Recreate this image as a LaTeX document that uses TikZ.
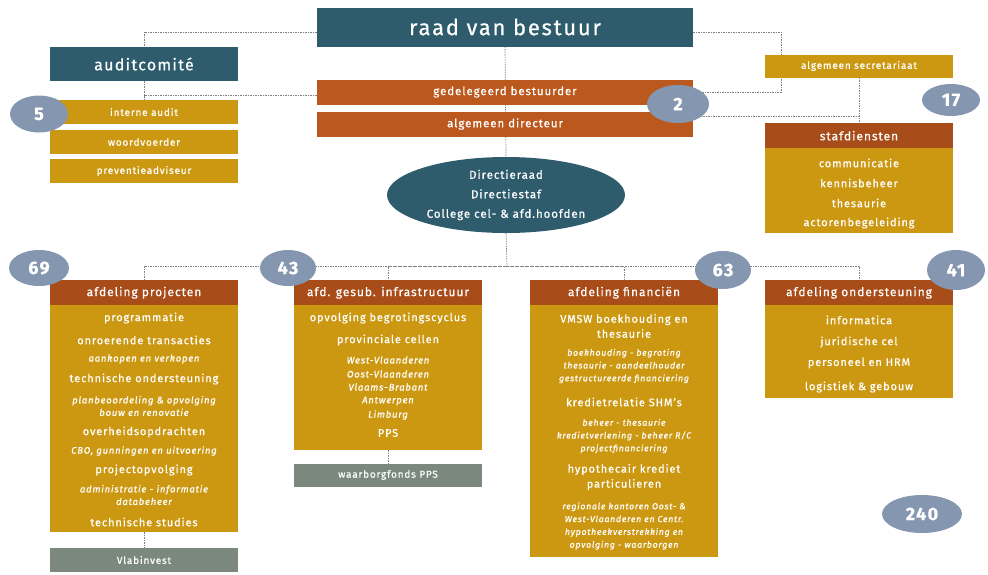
\documentclass[tikz,border=0pt]{standalone}
\usepackage{fontspec}
\setmainfont{Fira Sans}[LetterSpace=8, FakeBold=0.6]
\usetikzlibrary{shapes.geometric,backgrounds}

\definecolor{vmteal}{RGB}{46,92,108}
\definecolor{vmoranje}{RGB}{186,88,30}
\definecolor{vmkop}{RGB}{168,76,26}
\definecolor{vmgoud}{RGB}{204,152,18}
\definecolor{vmgrijs}{RGB}{122,136,126}
\definecolor{vmbol}{RGB}{132,150,176}
\definecolor{vmlijn}{RGB}{128,128,128}

\begin{document}
\begin{tikzpicture}[x=1pt,y=-1pt,
    lijn/.style={draw=vmlijn, line width=0.7pt, dash pattern=on 1.5pt off 1pt},
    vlak/.style={minimum width=188pt, inner sep=0pt, text=white},
    balk/.style={vlak, fill=vmgoud, minimum height=24pt, font=\fontsize{10}{12}\selectfont},
    oranjebalk/.style={vlak, fill=vmoranje, minimum width=376pt, minimum height=25pt, font=\fontsize{11.5}{13}\selectfont},
    grijsbalk/.style={vlak, fill=vmgrijs, minimum height=23pt, font=\fontsize{10}{12}\selectfont},
    lichaam/.style={vlak, fill=vmgoud, anchor=north},
    kop/.style={vlak, fill=vmkop, anchor=north, minimum height=25pt, font=\fontsize{12}{14}\selectfont},
    punt/.style={text=white, align=center, inner sep=0pt, font=\fontsize{11}{15}\selectfont},
    schuin/.style={text=white, align=center, inner sep=0pt, font=\fontsize{9.5}{12.5}\selectfont\itshape},
    schuinklein/.style={schuin, font=\fontsize{8.8}{12.8}\selectfont\itshape},
    bol/.style={ellipse, fill=vmbol, text=white, inner sep=0pt, font=\fontsize{18}{18}\selectfont\bfseries}
]
\useasboundingbox (0,0) rectangle (988,574);

% bovenaan
\node[vlak, fill=vmteal, minimum width=376pt, minimum height=39pt, font=\fontsize{22}{24}\selectfont] (rvb) at (505,27) {raad van bestuur};
\node[vlak, fill=vmteal, minimum height=34pt, font=\fontsize{16}{18}\selectfont] (audit) at (144,64) {auditcomité};
\node[balk] (ia) at (144,112) {interne audit};
\node[balk] (wv) at (144,142) {woordvoerder};
\node[balk] (pa) at (144,171) {preventieadviseur};
\node[oranjebalk] (ged) at (505,92) {gedelegeerd bestuurder};
\node[oranjebalk] (ad) at (505,124) {algemeen directeur};
\node[ellipse, fill=vmteal, text=white, minimum width=238pt, minimum height=76pt, inner sep=0pt,
      align=center, font=\fontsize{11.5}{19.5}\selectfont] (dir) at (506,195)
      {Directieraad\\Directiestaf\\College cel- \& afd.hoofden};

% rechts
\node[balk, minimum height=23pt] (sec) at (859,66) {algemeen secretariaat};
\node[lichaam, minimum height=110pt] (staf) at (859,123) {};
\node[kop] (stafkop) at (staf.north) {stafdiensten};
\foreach \y/\t [count=\i] in {163/communicatie, 183/kennisbeheer, 203/thesaurie, 223/actorenbegeleiding}
    \node[punt] (staf-\i) at (859,\y) {\t};

% afdelingen
\node[lichaam, minimum height=252pt] (proj) at (144,280) {};
\node[kop] (projkop) at (proj.north) {afdeling projecten};
\foreach \y/\s/\t [count=\i] in {318/punt/programmatie, 340/punt/onroerende transacties,
        359/schuin/aankopen en verkopen, 379/punt/technische ondersteuning,
        406/schuin/{planbeoordeling \& opvolging\\bouw en renovatie},
        432/punt/overheidsopdrachten, 451/schuin/{CBO, gunningen en uitvoering},
        470/punt/projectopvolging, 495/schuin/{administratie - informatie\\databeheer},
        522/punt/technische studies}
    \node[\s] (proj-\i) at (144,\y) {\t};
\node[grijsbalk, minimum height=24pt] (vlab) at (144,560) {Vlabinvest};

\node[lichaam, minimum height=170pt] (inf) at (388,280) {};
\node[kop] (infkop) at (inf.north) {afd. gesub. infrastructuur};
\foreach \y/\s/\t [count=\i] in {318/punt/opvolging begrotingscyclus, 340/punt/provinciale cellen,
        360/schuin/West-Vlaanderen, 374/schuin/Oost-Vlaanderen,
        387/schuin/Vlaams-Brabant, 401/schuin/Antwerpen,
        415/schuin/Limburg, 433/punt/PPS}
    \node[\s] (inf-\i) at (388,\y) {\t};
\node[grijsbalk] (wfp) at (388,475) {waarborgfonds PPS};

\node[lichaam, minimum height=277pt] (fin) at (624,280) {};
\node[kop] (finkop) at (fin.north) {afdeling financiën};
\foreach \y/\s/\t [count=\i] in {326/punt/{VMSW boekhouding en\\thesaurie},
        366/schuinklein/{boekhouding - begroting\\thesaurie - aandeelhouder\\gestructureerde financiering},
        402/punt/{kredietrelatie SHM's},
        436/schuinklein/{beheer - thesaurie\\kredietverlening - beheer R/C\\projectfinanciering},
        477/punt/{hypothecair krediet\\particulieren},
        526/schuinklein/{regionale kantoren Oost- \&\\West-Vlaanderen en Centr.\\hypotheekverstrekking en\\opvolging - waarborgen}}
    \node[\s] (fin-\i) at (624,\y) {\t};

\node[lichaam, minimum height=118pt] (ond) at (859,280) {};
\node[kop] (ondkop) at (ond.north) {afdeling ondersteuning};
\foreach \y/\t [count=\i] in {320/informatica, 342/juridische cel, 363/personeel en HRM, 387/logistiek \& gebouw}
    \node[punt] (ond-\i) at (859,\y) {\t};

% aantallen
\node[bol, minimum width=58pt, minimum height=37pt] (n5) at (39,114) {5};
\node[bol, minimum width=62pt, minimum height=38pt] (n2) at (678,104) {2};
\node[bol, minimum width=58pt, minimum height=32pt] (n17) at (951,100) {17};
\node[bol, minimum width=60pt, minimum height=36pt] (n69) at (39,268) {69};
\node[bol, minimum width=56pt, minimum height=36pt] (n43) at (288,268) {43};
\node[bol, minimum width=56pt, minimum height=38pt] (n63) at (723,270) {63};
\node[bol, minimum width=58pt, minimum height=40pt] (n41) at (956,270) {41};
\node[bol, minimum width=80pt, minimum height=38pt] (n240) at (922,514) {240};

% verbindingen
\coordinate (bus) at (507,266);
\coordinate (knik) at (781,60);
\begin{scope}[on background layer]
\draw[lijn] (rvb.south) -- (dir.north);
\draw[lijn] (dir.south) -- (bus);
\draw[lijn] ([yshift=-5pt]rvb.west) -| (audit.north);
\draw[lijn] ([yshift=-3pt]ged.west) -| (audit.south);
\draw[lijn] (audit.south) -- (ia.north);
\draw[lijn] ([yshift=-5pt]rvb.east) -| (knik) |- (ged.east);
\draw[lijn] ([yshift=8pt]ad.east) -| (sec.south);
\draw[lijn] (sec.south) -- (staf.north);
\draw[lijn] (proj.north) |- (bus) -| (ond.north);
\draw[lijn] (bus) -| (inf.north);
\draw[lijn] (bus) -| (fin.north);
\draw[lijn] (proj.south) -- (vlab.north);
\draw[lijn] (inf.south) -- (wfp.north);
\end{scope}
\end{tikzpicture}
\end{document}
